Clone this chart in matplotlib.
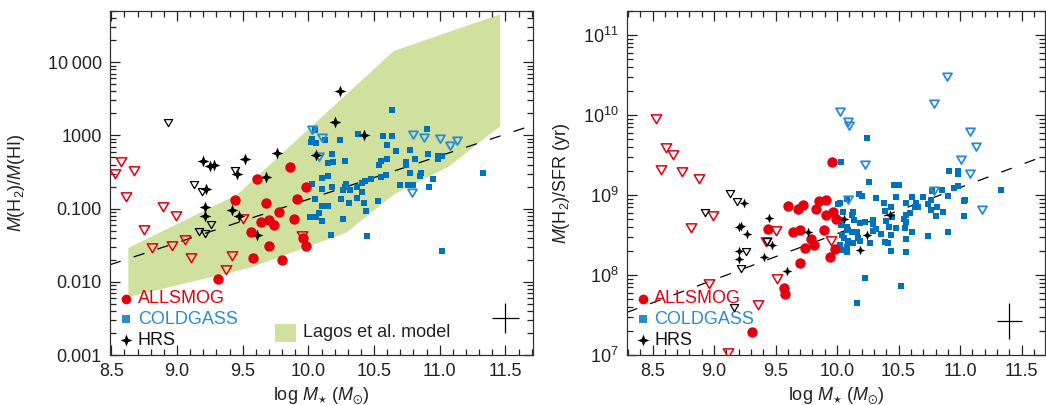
import numpy as np
import matplotlib
matplotlib.use("Agg")
import matplotlib.pyplot as plt
from matplotlib.path import Path
from matplotlib.ticker import MultipleLocator, LogLocator, NullFormatter, FixedLocator, FixedFormatter

plt.rcParams['font.family'] = 'Liberation Sans'
plt.rcParams['mathtext.fontset'] = 'custom'
plt.rcParams['mathtext.rm'] = 'Liberation Sans'
plt.rcParams['mathtext.it'] = 'Liberation Sans:italic'
plt.rcParams['mathtext.default'] = 'regular'

RED = '#e3000f'
BLUE = '#0072bc'
BLUE_LT = '#2b8bd2'
GREEN = '#cfe09f'

# ---------------- left panel: M(H2)/M(HI) vs log M*
ratio_red_lim_x = [8.57, 8.53, 8.67, 8.61, 8.89, 8.99, 8.75, 8.81, 8.96, 9.06, 9.11, 9.42, 9.37, 9.50, 9.95]
ratio_red_lim_y = [0.44, 0.31, 0.34, 0.15, 0.108, 0.083, 0.053, 0.030, 0.032, 0.038, 0.022, 0.023, 0.015, 0.075, 0.043]

ratio_red_det_x = [9.86, 9.61, 9.98, 9.44, 9.68, 9.91, 9.78, 9.89, 9.64, 9.70, 9.74, 9.56, 9.96, 9.98, 9.70, 9.58, 9.80, 9.31]
ratio_red_det_y = [0.37, 0.25, 0.196, 0.129, 0.120, 0.136, 0.089, 0.073, 0.066, 0.069, 0.060, 0.048, 0.040, 0.031, 0.031, 0.021, 0.020, 0.011]

ratio_hrs_det_x = [9.20, 9.25, 9.28, 9.52, 9.46, 9.22, 9.76, 9.68, 10.20, 10.42, 10.06, 9.21, 9.21, 9.42, 9.47, 9.61, 10.24]
ratio_hrs_det_y = [0.44, 0.38, 0.39, 0.47, 0.30, 0.186, 0.58, 0.27, 1.52, 1.0, 0.54, 0.105, 0.079, 0.097, 0.079, 0.044, 4.1]

ratio_hrs_lim_x = [8.93, 9.13, 9.19, 9.44, 9.26, 9.17, 9.21]
ratio_hrs_lim_y = [1.52, 0.22, 0.176, 0.34, 0.062, 0.050, 0.047]

ratio_cg_lim_x = [10.03, 10.10, 10.08, 10.80, 10.88, 11.00, 11.08, 11.13, 10.79]
ratio_cg_lim_y = [1.24, 0.96, 0.52, 1.03, 0.96, 0.93, 0.75, 0.86, 0.167]

ratio_cg_det_x = [10.64, 10.90, 10.38, 10.57, 10.64, 10.05, 10.03, 10.02, 10.06, 10.13,
                  10.24, 10.60, 10.67, 10.77, 10.91, 10.99, 11.02, 10.99, 10.18, 10.28,
                  10.15, 10.19, 10.55, 10.60, 10.54, 10.74, 10.81, 10.74, 10.77, 10.86,
                  10.85, 10.95, 10.59, 10.55, 10.48, 10.43, 10.41, 10.15, 10.10, 10.03,
                  10.29, 10.28, 10.37, 10.41, 10.32, 10.26, 10.18, 10.10, 10.25, 10.37,
                  10.05, 10.70, 10.76, 10.80, 10.92, 11.33, 11.02, 10.17, 10.45, 10.26,
                  10.44, 10.01, 10.06, 10.10, 10.08, 10.10, 10.15, 10.31, 10.42, 10.53]
ratio_cg_det_y = [2.2, 1.21, 1.06, 0.98, 0.98, 1.17, 0.90, 0.81, 0.78, 0.86,
                  0.86, 0.75, 0.62, 0.64, 0.55, 0.53, 0.53, 0.47, 0.55, 0.45,
                  0.42, 0.43, 0.45, 0.47, 0.40, 0.43, 0.47, 0.39, 0.31, 0.31,
                  0.28, 0.25, 0.29, 0.27, 0.25, 0.24, 0.225, 0.28, 0.26, 0.22,
                  0.22, 0.20, 0.20, 0.17, 0.18, 0.178, 0.196, 0.188, 0.137, 0.140,
                  0.137, 0.21, 0.21, 0.21, 0.196, 0.31, 0.026, 0.043, 0.042, 0.071,
                  0.092, 0.077, 0.077, 0.067, 0.087, 0.108, 0.108, 0.12, 0.12, 0.126]

# Lagos et al. model envelope
model_upper_x = [8.63, 9.46, 10.65, 11.46]
model_upper_y = [0.029, 0.156, 14.2, 45.0]
model_lower_x = [8.63, 9.56, 10.29, 10.65, 11.07, 11.46]
model_lower_y = [0.0062, 0.0156, 0.047, 0.156, 0.376, 1.33]

ratio_fit_x = [8.49, 11.71]
ratio_fit_y = [0.0171, 1.38]

ratio_err_x, ratio_err_y, ratio_err_dx, ratio_err_dex = 11.5, 0.0032, 0.1, 0.2

ratio_ticks = [0.001, 0.01, 0.1, 1, 10]
ratio_ticklabels = ['0.001', '0.010', '0.100', '1000', '10\u2009000']

# ---------------- right panel: M(H2)/SFR vs log M*
tdep_red_lim_x = [8.53, 8.61, 8.67, 8.57, 8.74, 8.88, 8.81, 8.99, 8.96, 9.36, 9.11, 9.50, 9.42, 9.51, 9.95]
tdep_red_lim_y = [9.25e9, 3.95e9, 3.26e9, 2.1e9, 2.0e9, 1.65e9, 4.0e8, 5.6e8, 7.9e7, 4.3e7, 1.1e7, 3.65e8, 2.66e8, 9.1e7, 2.74e8]

tdep_red_det_x = [9.96, 9.60, 9.72, 9.68, 9.85, 9.91, 9.83, 9.91, 9.97, 9.99, 9.44, 9.64,
                  9.70, 9.89, 9.79, 9.81, 9.74, 9.98, 9.94, 9.70, 9.57, 9.58, 9.31]
tdep_red_det_y = [2.56e9, 7.3e8, 7.5e8, 6.6e8, 8.5e8, 8.7e8, 6.6e8, 5.6e8, 6.2e8, 5.0e8, 3.8e8, 3.5e8,
                  3.7e8, 3.65e8, 2.8e8, 2.37e8, 2.16e8, 2.1e8, 1.7e8, 1.43e8, 6.8e7, 5.8e7, 1.95e7]

tdep_hrs_det_x = [9.24, 9.45, 9.20, 9.22, 9.27, 9.47, 9.20, 9.20, 9.41, 9.59, 9.76, 10.06, 10.24, 10.19, 10.43]
tdep_hrs_det_y = [7.9e8, 5.1e8, 4.0e8, 4.1e8, 3.25e8, 2.37e8, 2.0e8, 1.58e8, 1.66e8, 1.12e8, 3.45e8, 5.0e8, 3.2e8, 2.05e8, 5.7e8]

tdep_hrs_lim_x = [9.13, 9.19, 8.93, 9.26, 9.43, 9.22, 9.16]
tdep_hrs_lim_y = [1.07e9, 8.5e8, 6.2e8, 2.0e8, 2.66e8, 1.21e8, 3.95e7]

tdep_cg_lim_x = [10.89, 10.79, 10.02, 10.09, 10.10, 10.23, 11.08, 11.13, 11.01, 11.08, 11.18, 10.79, 10.09]
tdep_cg_lim_y = [3.1e10, 1.4e10, 1.13e10, 8.5e9, 7.5e9, 2.44e9, 6.3e9, 4.1e9, 2.8e9, 1.9e9, 6.6e8, 1.15e9, 8.8e8]

tdep_cg_det_x = [10.24, 10.03, 10.26, 10.46, 10.50, 10.18, 10.20, 10.32, 10.48, 10.61,
                 10.70, 10.77, 10.85, 10.90, 10.95, 10.98, 10.91, 10.98, 10.98, 11.33,
                 11.04, 10.08, 10.38, 10.44, 10.39, 10.56, 10.64, 10.63, 10.59, 10.66,
                 10.74, 10.76, 10.76, 10.86, 11.03, 11.03, 10.80, 10.56, 10.54, 10.55,
                 10.56, 10.61, 10.48, 10.42, 10.40, 10.45, 10.44, 10.41, 10.44, 10.56,
                 10.56, 10.74, 10.90, 10.52, 10.02, 10.12, 10.13, 10.03, 10.09, 10.12,
                 10.16, 10.06, 10.09, 10.13, 10.02, 10.08, 10.19, 10.08, 10.04, 10.27,
                 10.29, 10.32, 10.36, 10.23, 10.16, 10.81, 10.01, 10.05, 10.02, 10.14,
                 10.19, 10.08, 10.04, 10.17, 10.23, 10.29, 10.29, 10.39, 10.00]
tdep_cg_det_y = [5.2e9, 2.56e9, 1.47e9, 1.33e9, 1.33e9, 1.03e9, 9.7e8, 9.25e8, 9.5e8, 9.5e8,
                 9.5e8, 1.13e9, 1.15e9, 9.8e8, 1.23e9, 1.31e9, 2.0e9, 2.0e9, 1.83e9, 1.15e9,
                 8.7e8, 8.9e8, 7.9e8, 7.0e8, 6.4e8, 7.9e8, 8.0e8, 7.0e8, 5.9e8, 7.0e8,
                 7.65e8, 8.7e8, 6.5e8, 6.2e8, 8.4e8, 5.5e8, 5.5e8, 5.7e8, 5.0e8, 3.9e8,
                 4.6e8, 3.5e8, 3.9e8, 4.0e8, 4.7e8, 5.3e8, 3.2e8, 2.5e8, 2.0e8, 2.8e8,
                 1.95e8, 3.1e8, 3.5e8, 7.3e7, 7.9e8, 5.6e8, 6.2e8, 4.2e8, 3.65e8, 3.5e8,
                 3.5e8, 2.9e8, 2.7e8, 2.5e8, 2.37e8, 2.26e8, 2.66e8, 1.95e8, 2.05e8, 2.5e8,
                 4.9e8, 3.8e8, 3.3e8, 9.1e7, 4.5e7, 7.1e8, 7.7e8, 6.2e8, 4.9e8, 4.9e8,
                 4.5e8, 3.95e8, 3.2e8, 2.9e8, 4.6e8, 4.4e8, 3.55e8, 2.6e8, 2.1e8]

tdep_fit_x = [8.29, 11.69]
tdep_fit_y = [3.4e7, 3.1e9]

tdep_err_x, tdep_err_y, tdep_err_dx, tdep_err_dex = 11.4, 2.66e7, 0.1, 0.23

tdep_ticks = [1e7, 1e8, 1e9, 1e10, 1e11]
tdep_ticklabels = ['$10^{7}$', '$10^{8}$', '$10^{9}$', '$10^{10}$', '$10^{11}$']

# marker shapes
tri = Path([(-1, 0.7), (1, 0.7), (0, -1), (-1, 0.7)], [1, 2, 2, 79])
star = Path([(0, 1), (0.28, 0.28), (1, 0), (0.28, -0.28), (0, -1), (-0.28, -0.28),
             (-1, 0), (-0.28, 0.28), (0, 1)], [1, 2, 2, 2, 2, 2, 2, 2, 79])

fig = plt.figure(figsize=(10.46, 4.05), dpi=100)
ax1 = fig.add_axes([110 / 1046, 50 / 405, 423 / 1046, 344 / 405])
ax2 = fig.add_axes([626.7 / 1046, 50 / 405, 418.3 / 1046, 344 / 405])


def style(ax):
    ax.set_yscale('log')
    ax.xaxis.set_major_locator(MultipleLocator(0.5))
    ax.xaxis.set_minor_locator(MultipleLocator(0.1))
    ax.xaxis.set_major_formatter(plt.FormatStrFormatter('%.1f'))
    ax.yaxis.set_minor_locator(LogLocator(base=10, subs=np.arange(2, 10), numticks=20))
    ax.yaxis.set_minor_formatter(NullFormatter())
    ax.tick_params(which='both', direction='in', top=True, right=True, width=0.9,
                   colors='#222222', labelsize=13, pad=6)
    ax.tick_params(which='major', length=7)
    ax.tick_params(which='minor', length=4)
    for s in ax.spines.values():
        s.set_linewidth(0.9)
        s.set_color('#333333')


def err_cross(ax, x, y, dx, dex):
    lo = y * (1 - 10 ** (-dex))
    hi = y * (10 ** dex - 1)
    ax.errorbar([x], [y], xerr=dx, yerr=[[lo], [hi]], fmt='none', ecolor='black', elinewidth=0.9, capsize=0)


def legend(ax, fs=13):
    rows = [('ALLSMOG', RED, 'o', RED, 7, 0.163),
            ('COLDGASS', BLUE_LT, 's', BLUE_LT, 5.5, 0.104),
            ('HRS', '#111111', star, 'black', 8.5, 0.0436)]
    for name, tc, mk, mc, ms, yy in rows:
        ax.plot([0.039], [yy], marker=mk, color=mc, ms=ms, mew=0, ls='none',
                transform=ax.transAxes, clip_on=False)
        ax.text(0.066, yy, name, color=tc, fontsize=fs, va='center', ha='left', transform=ax.transAxes)


# left panel
style(ax1)
ax1.fill(model_upper_x + model_lower_x[::-1], model_upper_y + model_lower_y[::-1],
         color=GREEN, lw=0, zorder=1)
ax1.plot(ratio_fit_x, ratio_fit_y, color='black', lw=0.9, ls=(0, (9, 11)), zorder=2)
ax1.plot(ratio_cg_det_x, ratio_cg_det_y, 's', color=BLUE, ms=4.2, mew=0, zorder=3)
ax1.plot(ratio_cg_lim_x, ratio_cg_lim_y, marker=tri, ls='none', mfc='none', mec=BLUE_LT, ms=6.5, mew=1.3, zorder=3)
ax1.plot(ratio_red_lim_x, ratio_red_lim_y, marker=tri, ls='none', mfc='none', mec=RED, ms=7.5, mew=1.1, zorder=4)
ax1.plot(ratio_hrs_lim_x, ratio_hrs_lim_y, marker=tri, ls='none', mfc='none', mec='black', ms=6, mew=0.9, zorder=4)
ax1.plot(ratio_hrs_det_x, ratio_hrs_det_y, marker=star, ls='none', color='black', ms=8.5, mew=0, zorder=4)
ax1.plot(ratio_red_det_x, ratio_red_det_y, 'o', color=RED, ms=7.5, mew=0, zorder=5)
err_cross(ax1, ratio_err_x, ratio_err_y, ratio_err_dx, ratio_err_dex)
ax1.set_xlim(8.49, 11.71)
ax1.set_ylim(0.001, 50)
ax1.yaxis.set_major_locator(FixedLocator(ratio_ticks))
ax1.yaxis.set_major_formatter(FixedFormatter(ratio_ticklabels))
ax1.set_xlabel('log $\\mathit{M}_{\\star}$ ($\\mathit{M}_{\\odot}$)', fontsize=13, color='#222222', labelpad=4)
ax1.set_ylabel('$\\mathit{M}$(H$_2$)/$\\mathit{M}$(HI)', fontsize=13, color='#222222')
ax1.yaxis.set_label_coords(-0.196, 0.5)
legend(ax1)
ax1.add_patch(plt.Rectangle((0.390, 0.0387), 0.049, 0.0513, transform=ax1.transAxes,
                            facecolor=GREEN, lw=0))
ax1.text(0.456, 0.064, 'Lagos et al. model', fontsize=13, color='#222222', va='center',
         transform=ax1.transAxes)

# right panel
style(ax2)
ax2.plot(tdep_fit_x, tdep_fit_y, color='black', lw=0.9, ls=(0, (9, 11)), zorder=2)
ax2.plot(tdep_cg_det_x, tdep_cg_det_y, 's', color=BLUE, ms=4.2, mew=0, zorder=3)
ax2.plot(tdep_cg_lim_x, tdep_cg_lim_y, marker=tri, ls='none', mfc='none', mec=BLUE_LT, ms=6.5, mew=1.3, zorder=3)
ax2.plot(tdep_red_lim_x, tdep_red_lim_y, marker=tri, ls='none', mfc='none', mec=RED, ms=7.5, mew=1.1, zorder=4)
ax2.plot(tdep_hrs_lim_x, tdep_hrs_lim_y, marker=tri, ls='none', mfc='none', mec='black', ms=6, mew=0.9, zorder=4)
ax2.plot(tdep_red_det_x, tdep_red_det_y, 'o', color=RED, ms=7.5, mew=0, zorder=5)
ax2.plot(tdep_hrs_det_x, tdep_hrs_det_y, marker=star, ls='none', color='black', ms=7, mew=0, zorder=6)
err_cross(ax2, tdep_err_x, tdep_err_y, tdep_err_dx, tdep_err_dex)
ax2.set_xlim(8.29, 11.69)
ax2.set_ylim(1e7, 2e11)
ax2.yaxis.set_major_locator(FixedLocator(tdep_ticks))
ax2.yaxis.set_major_formatter(FixedFormatter(tdep_ticklabels))
ax2.set_xlabel('log $\\mathit{M}_{\\star}$ ($\\mathit{M}_{\\odot}$)', fontsize=13, color='#222222', labelpad=4)
ax2.set_ylabel('$\\mathit{M}$(H$_2$)/SFR (yr)', fontsize=13, color='#222222')
ax2.yaxis.set_label_coords(-0.13, 0.5)
legend(ax2)

fig.savefig('out.png', dpi=100)
